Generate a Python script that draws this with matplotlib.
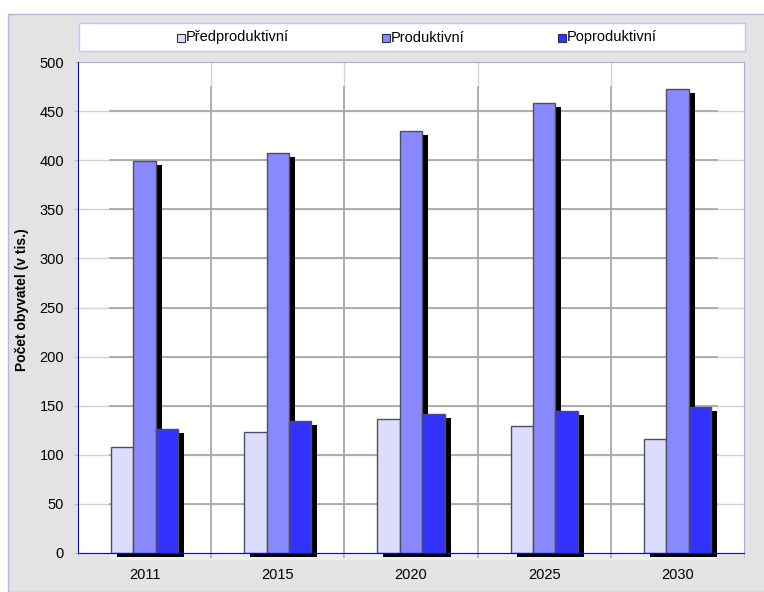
import numpy as np
import matplotlib.pyplot as plt
import matplotlib.transforms as mtransforms
from matplotlib.patches import Rectangle

plt.rcParams['font.family'] = ['Liberation Sans', 'DejaVu Sans']

# DATA
years = ['2011', '2015', '2020', '2025', '2030']
predproduktivni = [108, 123, 136, 129, 116]
produktivni = [399, 407, 430, 458, 473]
poproduktivni = [126, 134, 142, 145, 149]
series_names = ['Předproduktivní', 'Produktivní', 'Poproduktivní']
colors = ['#dcdcff', '#8888ff', '#3333ff']
yticks = [0, 50, 100, 150, 200, 250, 300, 350, 400, 450, 500]

W, H = 764, 592
fig = plt.figure(figsize=(W / 100, H / 100), dpi=100)
fig.patch.set_facecolor('white')

# grey chart background with lavender border
bg = Rectangle((8 / W, 0), 1, (H - 14) / H, transform=fig.transFigure,
               facecolor='#e3e3e3', edgecolor='#b4b4ee', lw=1, zorder=-10)
fig.patches.append(bg)

ax = fig.add_axes([78 / W, 1 - 553 / H, 666 / W, 491 / H])
ax.set_xlim(-0.5, 4.5)
ax.set_ylim(0, 500)

x = np.arange(len(years))
w = 0.168
data = [predproduktivni, produktivni, poproduktivni]

# "3d" back wall look
px = 5.0 / 666  # data units per px in x
wall_l = -0.5 + 32 * px
wall_r = -0.5 + 639 * px
for v in yticks[1:-1]:
    ax.plot([-0.5, 4.5], [v, v], color='#d2d2d2', lw=1, zorder=1)
    ax.plot([wall_l, wall_r], [v, v], color='#a9a9a9', lw=1.3, zorder=1.2)
for b in x[:-1] + 0.5:
    ax.plot([b, b], [474.5, 500], color='#d4d4d4', lw=1, zorder=1)
    ax.plot([b, b], [-4.5, 474.5], color='#a9a9a9', lw=1.3, zorder=1.2,
            clip_on=False)
ax.add_patch(Rectangle((wall_l, -7), wall_r - wall_l, 7, facecolor='#ededed',
                       edgecolor='none', clip_on=False, zorder=0.5))

# shadows and bars
shadow_tr = ax.transData + mtransforms.ScaledTranslation(
    6 / 100, -4 / 100, fig.dpi_scale_trans)
for i, vals in enumerate(data):
    pos = x + (i - 1) * w
    ax.bar(pos, vals, w, color='black', edgecolor='none', zorder=2,
           transform=shadow_tr, clip_on=False)
    ax.bar(pos, vals, w, color=colors[i], edgecolor='#505050', lw=1,
           zorder=3)

# axes styling
for s in ['top', 'right']:
    ax.spines[s].set_color('#a8a8e8')
for s in ['left', 'bottom']:
    ax.spines[s].set_color('#0000ff')
ax.spines['left'].set_zorder(4)
ax.spines['bottom'].set_zorder(4)
ax.set_yticks(yticks)
ax.set_xticks(x)
ax.set_xticklabels(years)
ax.set_xticks(np.arange(-0.5, 5, 1), minor=True)
ax.tick_params(axis='y', length=3, color='#c0c0c0', pad=7, labelsize=10.5)
ax.tick_params(axis='x', which='major', length=0, pad=11, labelsize=10.5)
ax.tick_params(axis='x', which='minor', length=3, color='#c0c0c0')
ax.set_ylabel('Počet obyvatel (v tis.)', fontsize=10, fontweight='bold',
              va='center')
ax.yaxis.set_label_coords(-0.084, 0.517)

# legend box
fig.patches.append(Rectangle((79 / W, 1 - 51 / H), 666 / W, 28 / H,
                             transform=fig.transFigure, facecolor='white',
                             edgecolor='#c4c4f2', lw=1))
leg_x = [177, 382, 558]
for i, name in enumerate(series_names):
    fig.patches.append(Rectangle((leg_x[i] / W, 1 - 42 / H), 8 / W, 8 / H,
                                 transform=fig.transFigure,
                                 facecolor=colors[i], edgecolor='#303030',
                                 lw=0.8))
    fig.text((leg_x[i] + 9) / W, 1 - 37.5 / H, name, fontsize=10.5,
             va='center', ha='left')

fig.savefig('out.png', dpi=100)
